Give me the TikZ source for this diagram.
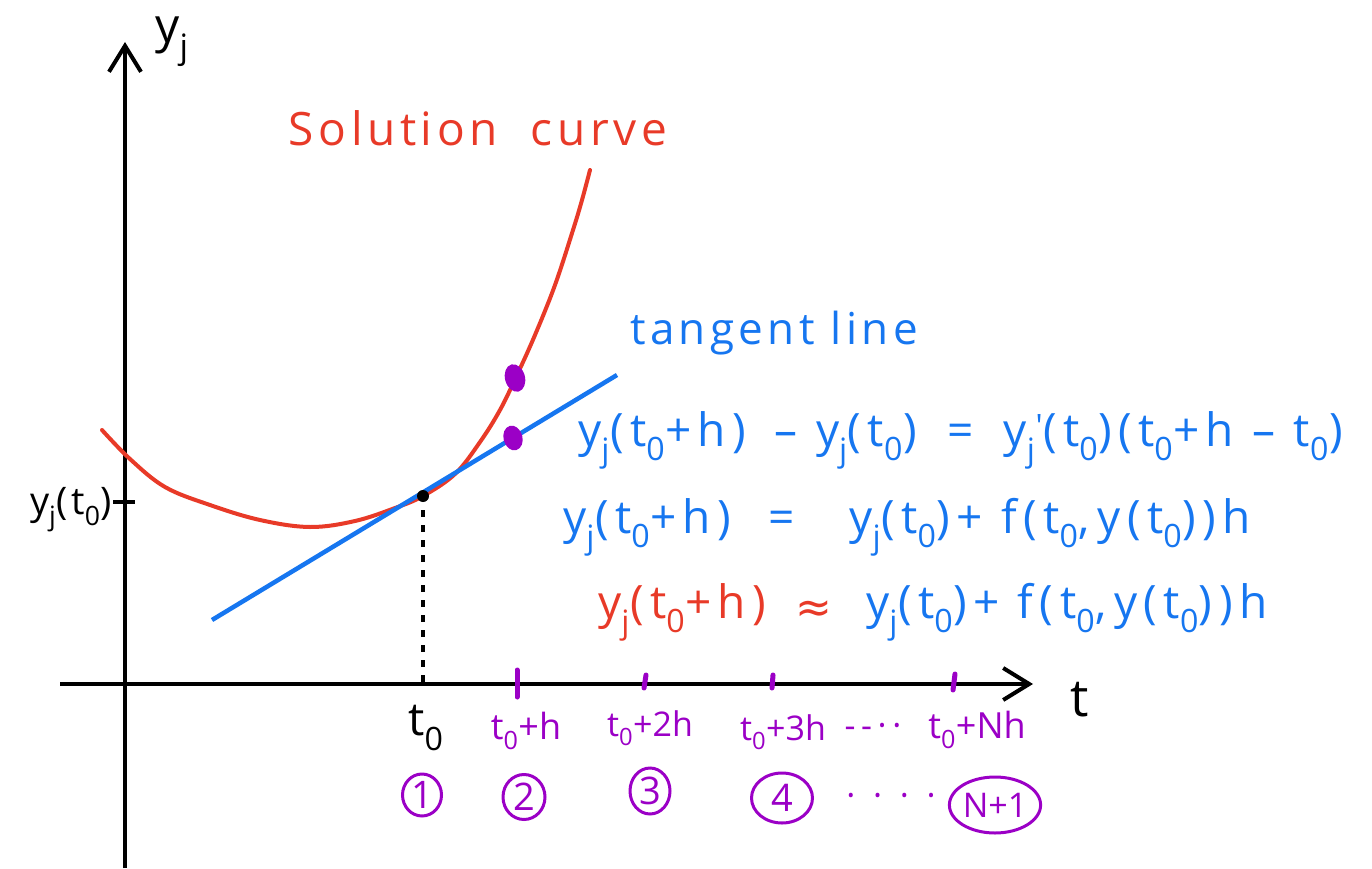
\documentclass[tikz,border=0pt]{standalone}
\usepackage{fontspec}
\setmainfont{Open Sans}
\newfontfamily\hand[LetterSpace=10]{Open Sans}
\newfontfamily\handw[LetterSpace=14]{Open Sans}
\newfontfamily\symf{DejaVu Sans}
\usetikzlibrary{arrows.meta,shapes.geometric}
\definecolor{cred}{RGB}{232,58,40}
\definecolor{cblue}{RGB}{22,118,240}
\definecolor{cpurp}{RGB}{155,0,198}
\newcommand{\sbs}[1]{\textsubscript{#1}}
\newcommand{\fs}[1]{\fontsize{#1}{#1}\selectfont}
\tikzset{
  axis/.style={line width=4pt,-{Straight Barb[length=26pt,width=32pt,line width=4pt]}},
  tickp/.style={cpurp,line width=5pt,line cap=round},
  lab/.style={inner sep=0pt,font=\fs{34}},
  eqn/.style={inner sep=0pt,font=\handw\fs{46},text=cblue},
  circ/.style={draw=cpurp,line width=3pt,text=cpurp,inner sep=0pt,font=\fs{38},ellipse},
}
\begin{document}
\begin{tikzpicture}[x=1pt,y=-1pt]
\useasboundingbox (0,0) rectangle (1372,869);
% axes
\coordinate (yb) at (125,868);
\coordinate (yt) at (125,42);
\coordinate (tl) at (60,684);
\coordinate (tr) at (1033,684);
\draw[axis] (yb) -- (yt);
\draw[axis] (tl) -- (tr);
\node[lab,font=\fs{48}] (ylab) at (172,42) {y\sbs{j}};
\node[lab,font=\fs{52}] (tlab) at (1080,700) {t};
% y tick
\coordinate (yt1) at (113,502);
\coordinate (yt2) at (135,502);
\draw[line width=4pt] (yt1) -- (yt2);
\node[lab,anchor=east,font=\hand\fs{38}] (y0lab) at (112,510) {y\sbs{j}(t\sbs{0})};
% solution curve
\draw[cred,line width=4pt,line cap=round] plot[smooth,tension=0.6] coordinates {
 (102,430) (130,459) (165,487) (210,505) (260,520) (310,527) (355,521) (395,508) (423,496) (455,474) (480,442) (500,410) (517,375) (535,335) (555,285) (573,230) (582,200) (590,170)};
% tangent line
\coordinate (ta) at (212,620);
\coordinate (tb) at (617,375);
\draw[cblue,line width=4.5pt] (ta) -- (tb);
% black point and dashed drop
\coordinate (p0) at (423,496);
\coordinate (p0a) at (423,684);
\fill (p0) circle (6);
\draw[line width=3.5pt,dash pattern=on 7pt off 8pt] (423,510) -- (p0a);
% purple dots
\fill[cpurp,rotate around={15:(515,378)}] (515,378) ellipse (10 and 14);
\fill[cpurp,rotate around={15:(513,438)}] (513,438) ellipse (9.5 and 12.5);
% ticks
\draw[tickp] (517,670) -- (517,697);
\draw[tickp] (646,675) -- (644,688);
\draw[tickp] (773,675) -- (772,688);
\draw[tickp] (955,674) -- (953,690);
% tick labels
\node[lab,font=\fs{46}] (l0) at (426,728) {t\sbs{0}};
\node[lab,text=cpurp,font=\fs{36}] (l1) at (526,731) {t\sbs{0}+h};
\node[lab,text=cpurp] (l2) at (650,728) {t\sbs{0}+2h};
\node[lab,text=cpurp] (l3) at (783,732) {t\sbs{0}+3h};
\node[lab,text=cpurp] (ld) at (873,730) {-\,-\,·\,·};
\node[lab,text=cpurp,font=\fs{36}] (lN) at (977,730) {t\sbs{0}+Nh};
% circled numbers
\node[circ,minimum width=39pt,minimum height=42pt] (c1) at (422,795) {1};
\node[circ,minimum width=42pt,minimum height=45pt] (c2) at (524,797) {2};
\node[circ,minimum width=40pt,minimum height=46pt] (c3) at (650,791) {3};
\node[circ,minimum width=61pt,minimum height=50pt] (c4) at (782,798) {4};
\node[lab,text=cpurp] (cd) at (891,800) {·\ \ ·\ \ ·\ \ ·};
\node[circ,minimum width=86pt,minimum height=56pt,font=\fs{34}] (cN) at (995,805) {N+1};
% labels
\node[lab,text=cred,font=\hand\fs{46}] (sol) at (478,128) {Solution\ \ curve};
\node[lab,text=cblue,font=\hand\fs{44}] (tan) at (774,333) {tangent\ line};
% equations
\node[eqn,anchor=west] (e1) at (578,440) {y\sbs{j}(t\sbs{0}+h)\hspace{10pt} – y\sbs{j}(t\sbs{0})\hspace{12pt} = \hspace{12pt}y\sbs{j}\textsuperscript{\textquotesingle}(t\sbs{0})\hspace{6pt}(t\sbs{0}+h – t\sbs{0})};
\node[eqn,anchor=west] (e2) at (563,527) {y\sbs{j}(t\sbs{0}+h)\ \ = \ \ y\sbs{j}(t\sbs{0})+ f(t\sbs{0},\,y(t\sbs{0}))h};
\node[eqn,anchor=west,text=cred] (e3a) at (598,612) {y\sbs{j}(t\sbs{0}+h)};
\node[inner sep=0pt,text=cred,font=\symf\fs{44}] (e3b) at (814,612) {≈};
\node[eqn,anchor=west] (e3c) at (866,612) {y\sbs{j}(t\sbs{0})+ f(t\sbs{0},\,y(t\sbs{0}))h};
\end{tikzpicture}
\end{document}
